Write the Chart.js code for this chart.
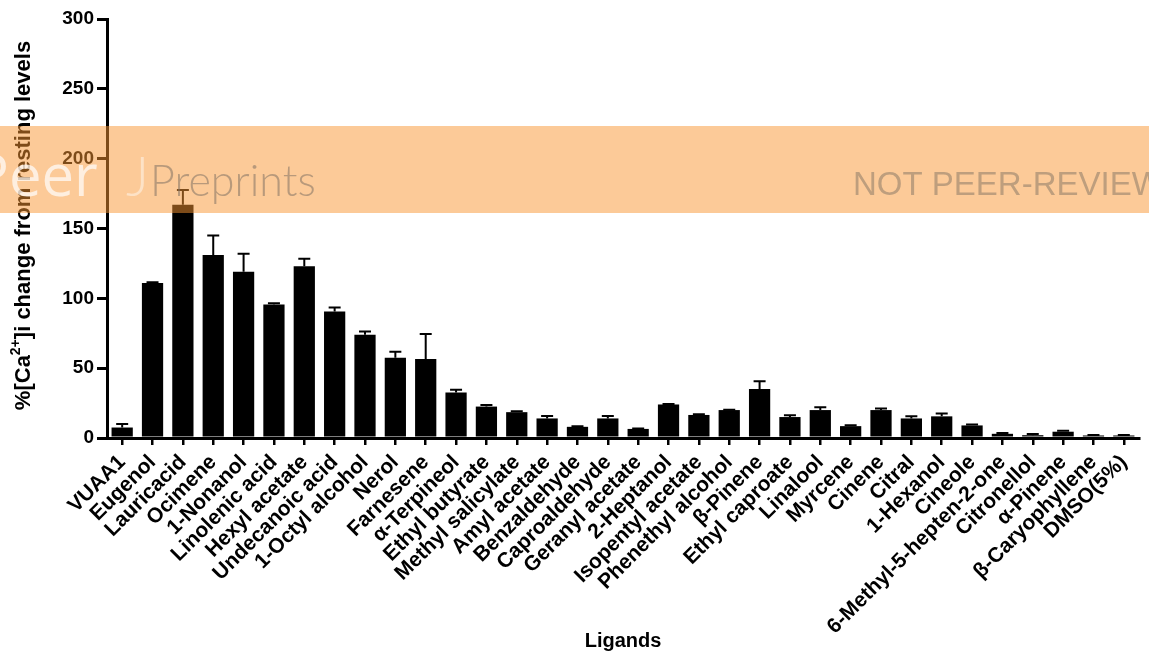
<!DOCTYPE html>
<html>
<head>
<meta charset="utf-8">
<title>Ligands</title>
<script src="https://cdn.jsdelivr.net/npm/chart.js@4.4.1/dist/chart.umd.min.js"></script>
<style>
  html, body { margin: 0; padding: 0; background: #fff; }
  #wrap { width: 1149px; height: 660px; position: relative; }
</style>
</head>
<body>
<div id="wrap"><canvas id="chart"></canvas></div>
<script>
const ligands = [
  'VUAA1', 'Eugenol', 'Lauricacid', 'Ocimene', '1-Nonanol', 'Linolenic acid',
  'Hexyl acetate', 'Undecanoic acid', '1-Octyl alcohol', 'Nerol', 'Farnesene',
  'α-Terpineol', 'Ethyl butyrate', 'Methyl salicylate', 'Amyl acetate',
  'Benzaldehyde', 'Caproaldehyde', 'Geranyl acetate', '2-Heptanol',
  'Isopentyl acetate', 'Phenethyl alcohol', 'β-Pinene', 'Ethyl caproate',
  'Linalool', 'Myrcene', 'Cinene', 'Citral', '1-Hexanol', 'Cineole',
  '6-Methyl-5-hepten-2-one', 'Citronellol', 'α-Pinene', 'β-Caryophyllene',
  'DMSO(5%)'
];

// mean % change and SEM for each ligand
const meanChange = [
  7.5, 111, 167, 131, 119, 95.5, 123, 90.5, 74, 57.5, 56.5,
  32.5, 22.5, 18.5, 14, 8, 14, 6.5, 24,
  16.5, 20, 35, 15, 20, 8.5, 20, 14, 15.5, 9,
  3, 2, 4.5, 1.8, 1.8
];
const semChange = [
  2.5, 0.5, 10.5, 14, 13, 1, 5.3, 3, 2.3, 4.3, 18,
  2, 1.2, 0.7, 1.7, 0.5, 1.7, 0.3, 0.3,
  0.5, 0.3, 5.7, 1.3, 2, 0.7, 1.2, 1.5, 2, 0.7,
  0.5, 0.8, 0.7, 0.3, 0.3
];
const yTicks = [0, 50, 100, 150, 200, 250, 300];

const FONT = '"Liberation Sans", Arial, Helvetica, sans-serif';

// upward-only error bars with a cap
const errorBars = {
  id: 'errorBars',
  afterDatasetsDraw(chart) {
    const ctx = chart.ctx;
    const y = chart.scales.y;
    const meta = chart.getDatasetMeta(0);
    ctx.save();
    ctx.strokeStyle = '#000';
    ctx.lineWidth = 2;
    meta.data.forEach((bar, i) => {
      const top = y.getPixelForValue(meanChange[i]);
      const end = y.getPixelForValue(meanChange[i] + semChange[i]);
      ctx.beginPath();
      ctx.moveTo(bar.x, top);
      ctx.lineTo(bar.x, end);
      ctx.moveTo(bar.x - 6, end);
      ctx.lineTo(bar.x + 6, end);
      ctx.stroke();
    });
    ctx.restore();
  }
};

// y title drawn by hand so the "2+" can sit as a real superscript
const yTitle = {
  id: 'yTitle',
  afterDraw(chart) {
    const ctx = chart.ctx;
    const area = chart.chartArea;
    const big = 'bold 22px ' + FONT;
    const small = 'bold 14px ' + FONT;
    const parts = [
      ['%[Ca', big, 0],
      ['2+', small, -8],
      [']i change from resting levels', big, 0]
    ];
    ctx.save();
    ctx.translate(24, (area.top + area.bottom) / 2 - 3);
    ctx.rotate(-Math.PI / 2);
    ctx.fillStyle = '#000';
    ctx.textBaseline = 'middle';
    let total = 0;
    parts.forEach(p => { ctx.font = p[1]; total += ctx.measureText(p[0]).width; });
    let x = -total / 2;
    parts.forEach(p => {
      ctx.font = p[1];
      ctx.fillText(p[0], x, p[2]);
      x += ctx.measureText(p[0]).width;
    });
    ctx.restore();
  }
};

// preprint banner laid across the figure
const banner = {
  id: 'banner',
  afterDraw(chart) {
    const ctx = chart.ctx;
    const w = chart.width;
    ctx.save();
    ctx.fillStyle = 'rgba(250, 150, 50, 0.5)';
    ctx.fillRect(0, 126, w, 87);
    ctx.textBaseline = 'alphabetic';
    ctx.fillStyle = 'rgba(255, 255, 255, 0.7)';
    ctx.font = '58px "Open Sans", sans-serif';
    ctx.fillText('Peer', -26, 196);
    ctx.fillStyle = 'rgba(255, 255, 255, 0.45)';
    ctx.font = '300 56px Lato, sans-serif';
    ctx.fillText('J', 126, 196);
    ctx.fillStyle = 'rgba(130, 115, 100, 0.55)';
    ctx.font = '300 43px Lato, "Open Sans", sans-serif';
    ctx.fillText('Preprints', 150, 196);
    ctx.fillStyle = 'rgba(130, 115, 100, 0.5)';
    ctx.font = '33px ' + FONT;
    ctx.fillText('NOT PEER-REVIEWED', 853, 195);
    ctx.restore();
  }
};

new Chart(document.getElementById('chart'), {
  type: 'bar',
  data: {
    labels: ligands,
    datasets: [{
      data: meanChange,
      backgroundColor: '#000',
      borderWidth: 0,
      categoryPercentage: 1,
      barPercentage: 0.7
    }]
  },
  options: {
    responsive: true,
    maintainAspectRatio: false,
    animation: false,
    layout: { padding: { top: 19, right: 10, bottom: 0, left: 0 } },
    plugins: {
      legend: { display: false },
      tooltip: { enabled: false }
    },
    scales: {
      x: {
        offset: true,
        border: { display: true, color: '#000', width: 3 },
        grid: { offset: false, drawOnChartArea: false, color: '#000', lineWidth: 2.5, tickLength: 7 },
        ticks: {
          autoSkip: false,
          minRotation: 45,
          maxRotation: 45,
          padding: 5,
          color: '#000',
          font: { family: FONT, size: 21, weight: 'bold' }
        },
        title: {
          display: true,
          text: 'Ligands',
          color: '#000',
          padding: { top: 0, bottom: 7 },
          font: { family: FONT, size: 20, weight: 'bold' }
        },
        afterFit(scale) { scale.height = 660 - 438; }
      },
      y: {
        min: 0,
        max: 300,
        border: { display: true, color: '#000', width: 3 },
        grid: { drawOnChartArea: false, color: '#000', lineWidth: 3, tickLength: 10 },
        afterBuildTicks(scale) { scale.ticks = yTicks.map(v => ({ value: v })); },
        ticks: {
          padding: 3,
          color: '#000',
          font: { family: FONT, size: 19, weight: 'bold' }
        },
        title: { display: false },
        afterFit(scale) { scale.width = 107; }
      }
    }
  },
  plugins: [errorBars, yTitle, banner]
});
</script>
</body>
</html>
